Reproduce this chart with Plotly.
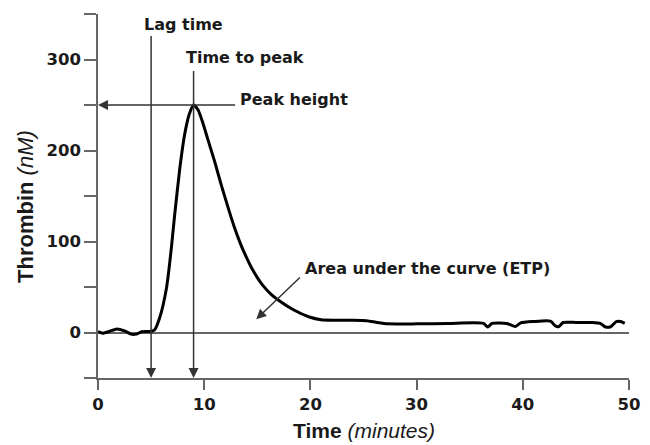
import plotly.graph_objects as go

# ---- data ----
time_min = [0, 0.45, 1.05, 1.7, 2.5, 3.1, 3.6, 4.1, 4.85, 5.3,
            5.8, 6.45, 6.9, 7.2, 7.7, 8.15, 8.6, 9.0, 9.4,
            9.8, 10.35, 10.98, 11.61, 12.23, 12.8, 13.4, 14.0, 14.6, 15.5,
            16.3, 17.0, 18.4, 19.9, 21.0, 22.5, 24.0, 25.3, 26.3, 27.3, 30.0,
            33.0, 36.3, 36.7, 37.1, 38.5, 39.3, 39.8, 41.0, 42.6, 43.1,
            43.4, 43.8, 45.0, 46.5, 47.3, 47.8, 48.3, 48.8, 49.2, 49.6]
thrombin_nM = [1, -0.7, 1.1, 3.7, 1.8, -1.8, -1.8, 0.8, 1.1, 2.5,
               16, 49, 92, 127, 180, 217, 240, 250, 245,
               233, 212, 188, 162, 138, 117, 98, 82, 68, 52,
               42, 35.5, 25, 17, 14, 13.5, 13.5, 13, 11, 9.5, 9.5,
               10, 10, 6, 10, 10, 6.5, 10.5, 12, 12.5, 7,
               6.5, 11, 11, 11, 10, 6, 6.5, 12, 12, 10]

x_ticks = [0, 10, 20, 30, 40, 50]
y_ticks = [-50, 0, 50, 100, 150, 200, 250, 300, 350]
y_tick_text = ["", "0", "", "100", "", "200", "", "300", ""]

lag_time = 5
time_to_peak = 9
peak_height = 250

AX = "#666666"
LN = "#333333"
TXT = "#1a1a1a"
TICKFONT = dict(family="DejaVu Sans", size=16.5, color=TXT, weight="bold")
ANNFONT = dict(family="DejaVu Sans", size=16, color=TXT, weight="bold")
XTITLEFONT = dict(family="Liberation Sans, Arial", size=21, color=TXT)
YTITLEFONT = dict(family="Liberation Sans, Arial", size=22, color=TXT)

fig = go.Figure()
fig.add_trace(go.Scatter(
    x=time_min, y=thrombin_nM, mode="lines",
    line=dict(color="black", width=3, shape="spline", smoothing=0.6),
    hoverinfo="skip", showlegend=False))

arrow_common = dict(xref="x", yref="y", axref="x", ayref="y", text="",
                    showarrow=True, arrowhead=2, arrowsize=1.33,
                    arrowwidth=1.5, arrowcolor=LN, standoff=0)

annotations = [
    dict(x=lag_time, y=-50, ax=lag_time, ay=327.5, **arrow_common),
    dict(x=time_to_peak, y=-50, ax=time_to_peak, ay=289, **arrow_common),
    dict(x=0, y=peak_height, ax=13.05, ay=peak_height, **arrow_common),
    dict(x=14.9, y=14.6, ax=19.15, ay=62, **arrow_common),
    dict(x=8.06, y=339, xref="x", yref="y", text="Lag time", showarrow=False,
         xanchor="center", yanchor="middle", font=ANNFONT),
    dict(x=13.8, y=302, xref="x", yref="y", text="Time to peak", showarrow=False,
         xanchor="center", yanchor="middle", font=ANNFONT),
    dict(x=13.2, y=256, xref="x", yref="y", text="Peak height", showarrow=False,
         xanchor="left", yanchor="middle", font=ANNFONT),
    dict(x=19.3, y=70.7, xref="x", yref="y", text="Area under the curve (ETP)",
         showarrow=False, xanchor="left", yanchor="middle", font=ANNFONT),
    dict(x=0.5, y=-0.143, xref="paper", yref="paper",
         text="<b>Time</b> <i>(minutes)</i>", showarrow=False,
         xanchor="center", yanchor="middle", font=XTITLEFONT),
    dict(x=-0.1375, y=0.4725, xref="paper", yref="paper",
         text="<b>Thrombin</b> <i>(nM)</i>", showarrow=False, textangle=-90,
         xanchor="center", yanchor="middle", font=YTITLEFONT),
]

# the page body has an 8px margin, so the figure is offset by 8px
fig.update_layout(
    width=642, height=437,
    margin=dict(l=90, r=21, t=6, b=67),
    paper_bgcolor="white", plot_bgcolor="white",
    showlegend=False,
    annotations=annotations,
    xaxis=dict(range=[0, 50], tickvals=x_ticks, showline=True, linecolor=AX,
               linewidth=1.5, ticks="outside", ticklen=10, tickwidth=1.5,
               tickcolor=AX, showgrid=False, zeroline=False,
               tickfont=TICKFONT, fixedrange=True),
    yaxis=dict(range=[-50, 350], tickvals=y_ticks, ticktext=y_tick_text,
               showline=True, linecolor=AX, linewidth=1.5, ticks="outside",
               ticklen=12, tickwidth=1.5, tickcolor=AX, showgrid=False,
               zeroline=True, zerolinecolor=AX, zerolinewidth=1.5,
               tickfont=TICKFONT, fixedrange=True),
)

fig.write_html("out.html")
